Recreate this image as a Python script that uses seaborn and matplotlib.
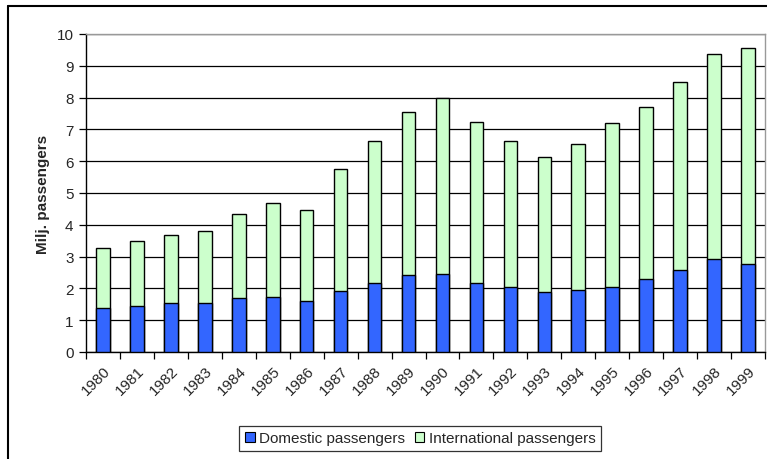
import matplotlib
matplotlib.use("Agg")
import matplotlib.pyplot as plt
from matplotlib.lines import Line2D
from matplotlib.patches import Patch
import seaborn as sns
import pandas as pd
import numpy as np

# Passenger counts, millions
years = [str(y) for y in range(1980, 2000)]
domestic = [1.38, 1.46, 1.53, 1.53, 1.71, 1.74, 1.61, 1.93, 2.18, 2.41,
            2.46, 2.18, 2.04, 1.88, 1.96, 2.04, 2.28, 2.59, 2.91, 2.77]
international = [1.90, 2.04, 2.16, 2.26, 2.63, 2.94, 2.84, 3.82, 4.47, 5.14,
                 5.54, 5.06, 4.59, 4.25, 4.58, 5.15, 5.44, 5.89, 6.47, 6.78]
y_ticks = list(range(0, 11))

DOM_COLOR = "#3366FF"
INT_COLOR = "#CCFFCC"

df = pd.DataFrame({
    "year": years,
    "domestic": domestic,
    "international": international,
})
df["total"] = df["domestic"] + df["international"]

sns.set_theme(style="white")
plt.rcParams["font.family"] = ["Liberation Sans", "DejaVu Sans"]

fig = plt.figure(figsize=(7.67, 4.60), dpi=100)
ax = fig.add_axes([86 / 767, 1 - 353 / 460, (765 - 86) / 767, (353 - 35) / 460])

# Stacked bars: full height in green, domestic part drawn over it in blue
sns.barplot(data=df, x="year", y="total", color=INT_COLOR, width=0.4,
            edgecolor="black", linewidth=1.0, saturation=1, ax=ax, zorder=3)
sns.barplot(data=df, x="year", y="domestic", color=DOM_COLOR, width=0.4,
            edgecolor="black", linewidth=1.0, saturation=1, ax=ax, zorder=4)

ax.set_ylim(0, 10)
ax.set_xlim(-0.5, len(years) - 0.5)
ax.set_yticks(y_ticks)
ax.set_yticklabels([str(t) for t in y_ticks], fontsize=11)
ax.yaxis.grid(True, color="black", linewidth=0.9)
ax.set_axisbelow(True)

# Year labels under bars, tick marks between categories
ax.set_xticks(range(len(years)))
ax.set_xticklabels(years, rotation=45, ha="right", rotation_mode="anchor",
                   fontsize=11)
ax.set_xticks(np.arange(len(years) + 1) - 0.5, minor=True)
ax.tick_params(axis="x", which="major", length=0, pad=8)
ax.tick_params(axis="x", which="minor", length=5, width=0.9, color="black",
               direction="out", bottom=True)
ax.tick_params(axis="y", which="major", length=5, width=0.9, color="black",
               direction="out", left=True, pad=4)

ax.set_xlabel("")
ax.set_ylabel("Milj. passengers", fontsize=11, fontweight="bold", labelpad=5)

for side in ["left", "bottom"]:
    ax.spines[side].set_color("black")
    ax.spines[side].set_linewidth(1.0)
for side in ["top", "right"]:
    ax.spines[side].set_visible(True)
    ax.spines[side].set_color("#999999")
    ax.spines[side].set_linewidth(1.0)

handles = [
    Patch(facecolor=DOM_COLOR, edgecolor="black", linewidth=0.8,
          label="Domestic passengers"),
    Patch(facecolor=INT_COLOR, edgecolor="black", linewidth=0.8,
          label="International passengers"),
]
leg = fig.legend(handles=handles, loc="center", bbox_to_anchor=(0.548, 0.045),
                 ncol=2, frameon=True, fancybox=False, edgecolor="black",
                 fontsize=11, handlelength=0.65, handleheight=0.65,
                 handletextpad=0.3, columnspacing=0.6, borderpad=0.35)
leg.get_frame().set_linewidth(0.9)

# Chart border on the left and top
fig.add_artist(Line2D([8 / 767, 8 / 767], [0, 1 - 7 / 460],
                      transform=fig.transFigure, color="black", linewidth=1.5))
fig.add_artist(Line2D([8 / 767, 1], [1 - 7 / 460, 1 - 7 / 460],
                      transform=fig.transFigure, color="black", linewidth=1.5))

fig.savefig("out.png", dpi=100, facecolor="white")
